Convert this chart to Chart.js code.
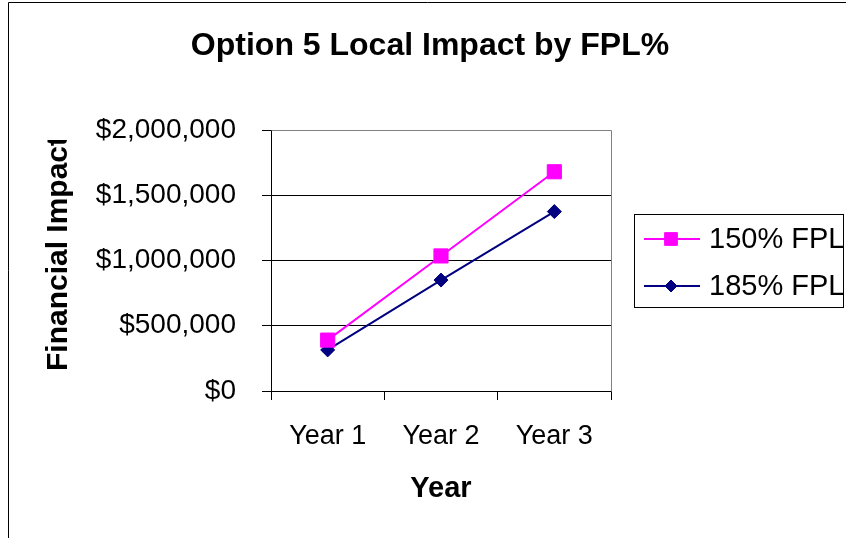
<!DOCTYPE html>
<html>
<head>
<meta charset="utf-8">
<script src="https://cdn.jsdelivr.net/npm/chart.js@4.4.1/dist/chart.umd.min.js"></script>
<style>
html,body{margin:0;padding:0;background:#fff;}
#wrap{width:846px;height:538px;position:relative;}
</style>
</head>
<body>
<div id="wrap"><canvas id="c"></canvas></div>
<script>
const chartTitle = "Option 5 Local Impact by FPL%";
const xTitle = "Year";
const yTitle = "Financial Impact";
const categories = ["Year 1", "Year 2", "Year 3"];
const seriesNames = ["150% FPL", "185% FPL"];
const fpl150 = [390000, 1035000, 1680000];
const fpl185 = [315000, 850000, 1375000];
const yTicks = [0, 500000, 1000000, 1500000, 2000000];

const FONT = "'Liberation Sans', Arial, sans-serif";
const colors = ["#FF00FF", "#000080"];
const styles = ["rect", "rectRot"];
const radii = [10, 7];

const decor = {
  id: 'decor',
  beforeDatasetsDraw(chart) {
    const {ctx, chartArea: a} = chart;
    ctx.save();
    ctx.strokeStyle = '#808080';
    ctx.lineWidth = 1;
    ctx.beginPath();
    ctx.moveTo(Math.round(a.left) + 0.5, Math.round(a.top) + 0.5);
    ctx.lineTo(Math.round(a.right) + 0.5, Math.round(a.top) + 0.5);
    ctx.lineTo(Math.round(a.right) + 0.5, Math.round(a.bottom) + 0.5);
    ctx.stroke();
    ctx.restore();
  },
  afterDraw(chart) {
    const {ctx} = chart;
    ctx.save();
    // outer frame
    ctx.strokeStyle = '#000';
    ctx.lineWidth = 1;
    ctx.beginPath();
    ctx.moveTo(8.5, 538);
    ctx.lineTo(8.5, 2.5);
    ctx.lineTo(846, 2.5);
    ctx.stroke();
    // title
    ctx.fillStyle = '#000';
    ctx.font = "bold 32px " + FONT;
    ctx.textAlign = 'center';
    ctx.textBaseline = 'middle';
    ctx.fillText(chartTitle, 430, 46);
    // x title
    ctx.font = "bold 29px " + FONT;
    ctx.fillText(xTitle, 441, 489);
    // y title clipped at the top like the reference
    ctx.save();
    ctx.beginPath();
    ctx.rect(0, 140, 200, 400);
    ctx.clip();
    ctx.translate(59, 253.5);
    ctx.rotate(-Math.PI / 2);
    ctx.font = "bold 30px " + FONT;
    ctx.fillText(yTitle, 0, 0);
    ctx.restore();
    // legend
    ctx.strokeStyle = '#000';
    ctx.lineWidth = 1;
    ctx.strokeRect(634.5, 214.5, 209, 93);
    const ys = [239, 286];
    ctx.font = "29px " + FONT;
    ctx.textAlign = 'left';
    seriesNames.forEach((n, i) => {
      ctx.strokeStyle = colors[i];
      ctx.lineWidth = 2;
      ctx.beginPath();
      ctx.moveTo(644, ys[i]);
      ctx.lineTo(700, ys[i]);
      ctx.stroke();
      ctx.fillStyle = colors[i];
      ctx.strokeStyle = colors[i];
      ctx.lineWidth = 1;
      Chart.helpers.drawPoint(ctx, {pointStyle: styles[i], radius: i === 0 ? 9 : 6, borderWidth: 1}, 671, ys[i]);
      ctx.fillStyle = '#000';
      ctx.fillText(n, 709, ys[i] + 1);
    });
    ctx.restore();
  }
};

const ctxEl = document.getElementById('c');
const chart = new Chart(ctxEl, {
  type: 'line',
  data: {
    labels: categories,
    datasets: [
      {label: seriesNames[0], data: fpl150, borderColor: colors[0], backgroundColor: colors[0], borderWidth: 2,
       pointStyle: styles[0], pointRadius: radii[0], pointBorderColor: colors[0], pointBackgroundColor: colors[0], pointBorderWidth: 1, tension: 0},
      {label: seriesNames[1], data: fpl185, borderColor: colors[1], backgroundColor: colors[1], borderWidth: 2,
       pointStyle: styles[1], pointRadius: radii[1], pointBorderColor: colors[1], pointBackgroundColor: colors[1], pointBorderWidth: 1, tension: 0}
    ]
  },
  options: {
    responsive: true,
    maintainAspectRatio: false,
    animation: false,
    devicePixelRatio: 1,
    layout: {padding: {top: 130, right: 235, left: 0, bottom: 0}},
    plugins: {legend: {display: false}, title: {display: false}, tooltip: {enabled: false}},
    scales: {
      x: {
        type: 'category',
        offset: true,
        grid: {offset: true, drawOnChartArea: false, drawTicks: true, tickLength: 9, color: '#000'},
        border: {color: '#000', width: 1},
        ticks: {color: '#000', font: {family: FONT, size: 27}, padding: 20, maxRotation: 0},
        afterFit(s) { s.height = 147; }
      },
      y: {
        min: 0, max: 2000000,
        afterBuildTicks(s) { s.ticks = yTicks.map(v => ({value: v})); },
        grid: {color: '#000', drawTicks: true, tickLength: 9},
        border: {color: '#000', width: 1},
        ticks: {color: '#000', font: {family: FONT, size: 28}, padding: 26,
          callback: v => '$' + Number(v).toLocaleString('en-US')},
        afterFit(s) { s.width = 271; }
      }
    }
  },
  plugins: [decor]
});
</script>
</body>
</html>
